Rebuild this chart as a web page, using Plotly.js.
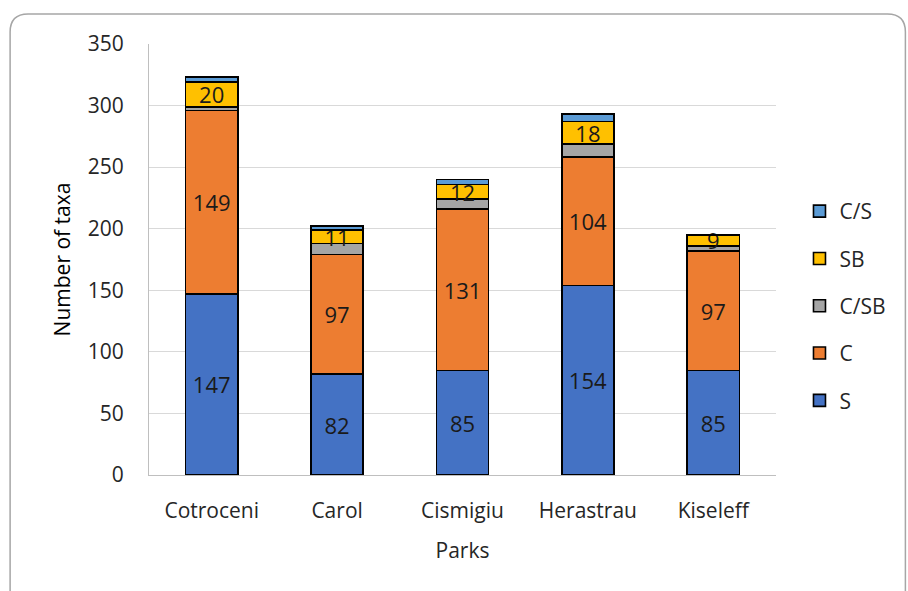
<!DOCTYPE html>
<html>
<head>
<meta charset="utf-8">
<script src="https://cdn.plot.ly/plotly-3.0.1.min.js"></script>
<style>
  html, body { margin: 0; padding: 0; background: #ffffff; }
  #chart { width: 908px; height: 591px; }
</style>
</head>
<body>
<div id="chart"></div>
<script>
// Number of taxa per park, split by category
const parks = ['Cotroceni', 'Carol', 'Cismigiu', 'Herastrau', 'Kiseleff'];
const valuesS    = [147, 82, 85, 154, 85];
const valuesC    = [149, 97, 131, 104, 97];
const valuesCSB  = [3, 9, 8, 11, 4];
const valuesSB   = [20, 11, 12, 18, 9];
const valuesCS   = [4, 3, 4, 6, 0];
const yTicks     = [0, 50, 100, 150, 200, 250, 300, 350];

const FONT = '"Open Sans", Lato, "DejaVu Sans", sans-serif';
const FS = 21;

// plot area in pixels
const L = 149, R = 776.5, T = 44, B = 475;
const W = 908, H = 591;
const px = x => (x - L) / (R - L);
const py = y => (B - y) / (B - T);

function series(name, vals, color, labelled, rank) {
  return {
    type: 'bar',
    name: name,
    x: parks,
    y: vals,
    legendgroup: name,
    legendrank: rank,
    marker: { color: color, line: { color: '#000000', width: 1.6 } },
    text: labelled ? vals.map(v => String(v)) : undefined,
    textposition: labelled ? 'inside' : 'none',
    insidetextanchor: 'middle',
    constraintext: 'none',
    textangle: 0,
    textfont: { family: FONT, size: 22, color: '#1a1a1a' },
    hoverinfo: 'x+y+name'
  };
}

const data = [
  series('S', valuesS, '#4472C4', true, 5),
  series('C', valuesC, '#ED7D31', true, 4),
  series('C/SB', valuesCSB, '#A5A5A5', false, 3),
  series('SB', valuesSB, '#FFC000', true, 2),
  series('C/S', valuesCS, '#5B9BD5', false, 1)
];

// rounded outer frame
const frame = 'M ' + px(10) + ',' + py(600) +
  ' L ' + px(10) + ',' + py(32) +
  ' Q ' + px(10) + ',' + py(14) + ' ' + px(28) + ',' + py(14) +
  ' L ' + px(888) + ',' + py(14) +
  ' Q ' + px(906) + ',' + py(14) + ' ' + px(906) + ',' + py(32) +
  ' L ' + px(906) + ',' + py(600);

const layout = {
  width: W, height: H,
  margin: { l: L, r: W - R, t: T, b: H - B, pad: 0 },
  paper_bgcolor: '#ffffff',
  plot_bgcolor: '#ffffff',
  barmode: 'stack',
  bargap: 0.585,
  font: { family: FONT, size: FS, color: '#262626' },
  showlegend: true,
  legend: {
    x: px(800), xanchor: 'left',
    y: py(191), yanchor: 'top',
    traceorder: 'grouped',
    tracegroupgap: 17,
    font: { family: FONT, size: FS, color: '#262626' },
    bgcolor: 'rgba(0,0,0,0)',
    borderwidth: 0
  },
  xaxis: {
    type: 'category',
    showgrid: false,
    showline: true,
    linecolor: '#bfbfbf',
    linewidth: 1,
    ticks: '',
    ticklabelstandoff: 17,
    tickfont: { family: FONT, size: FS, color: '#262626' },
    title: { text: 'Parks', font: { family: FONT, size: FS, color: '#262626' }, standoff: 20 },
    automargin: false
  },
  yaxis: {
    range: [0, 350],
    tickvals: yTicks,
    ticktext: yTicks.map(String),
    showgrid: true,
    gridcolor: '#d9d9d9',
    gridwidth: 1,
    zeroline: false,
    showline: true,
    linecolor: '#bfbfbf',
    linewidth: 1,
    ticks: '',
    ticklabelstandoff: 20,
    tickfont: { family: FONT, size: FS, color: '#262626' },
    title: { text: 'Number of taxa', font: { family: FONT, size: FS, color: '#000000' }, standoff: 11 },
    automargin: false
  },
  shapes: [{
    type: 'path', xref: 'paper', yref: 'paper', path: frame,
    line: { color: '#a6a6a6', width: 1.5 }, fillcolor: 'rgba(0,0,0,0)', layer: 'above'
  }]
};

Plotly.newPlot('chart', data, layout, { displayModeBar: false, staticPlot: true });
</script>
</body>
</html>
